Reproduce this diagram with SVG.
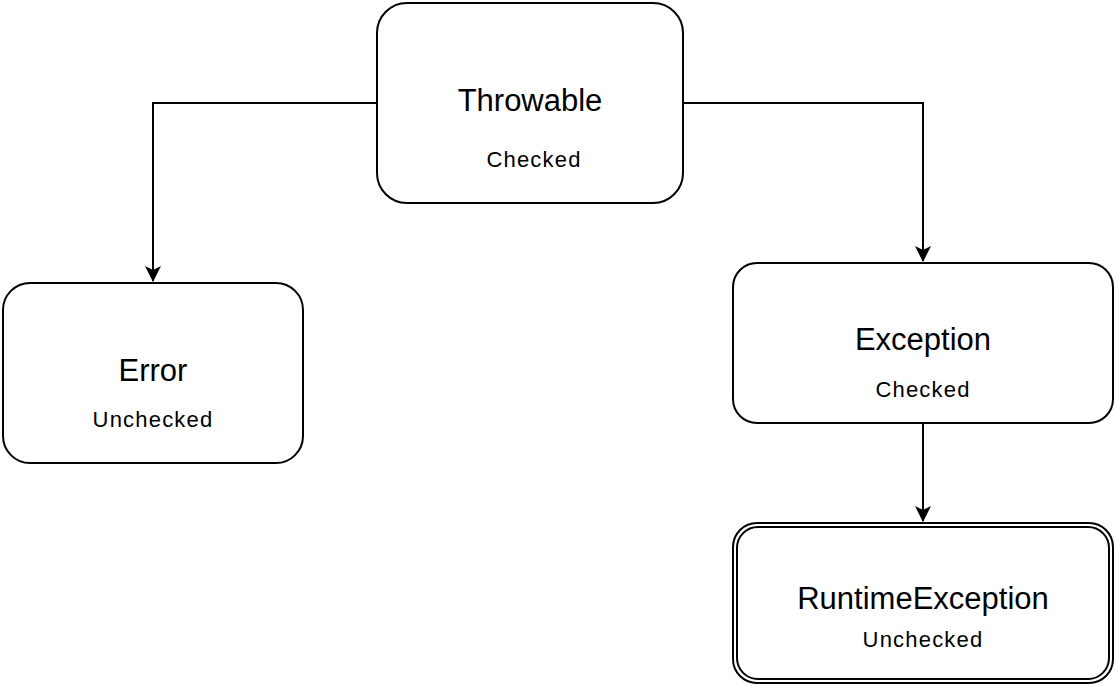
<svg xmlns="http://www.w3.org/2000/svg" width="1116" height="686" viewBox="0 0 1116 686">
<style>
.box{fill:#fff;stroke:#000;stroke-width:2}
.title{font-family:"Liberation Sans",Arial,sans-serif;font-size:31px;text-anchor:middle;fill:#000}
.sub{font-family:"Liberation Sans",Arial,sans-serif;font-size:22px;text-anchor:middle;fill:#000;letter-spacing:1.2px}
.edge{fill:none;stroke:#000;stroke-width:2}
</style>
<defs>
<marker id="arr" markerUnits="userSpaceOnUse" markerWidth="20" markerHeight="20" viewBox="-17 -10 20 20" refX="0" refY="0" orient="auto">
<path d="M1,0 L-15,-8 L-11,0 L-15,8 Z" fill="#000"/>
</marker>
</defs>
<rect width="1116" height="686" fill="#fff"/>
<g id="connectors">
<path class="edge" d="M377,103 H153 V281" marker-end="url(#arr)"/>
<path class="edge" d="M683,103 H923 V261" marker-end="url(#arr)"/>
<path class="edge" d="M923,423 V521" marker-end="url(#arr)"/>
</g>
<g id="throwable">
<rect class="box" x="377" y="3" width="306" height="200" rx="30"/>
<text class="title" x="530" y="111">Throwable</text>
<text class="sub" x="534" y="167">Checked</text>
</g>
<g id="error">
<rect class="box" x="3" y="283" width="300" height="180" rx="27"/>
<text class="title" x="153" y="381">Error</text>
<text class="sub" x="153" y="427">Unchecked</text>
</g>
<g id="exception">
<rect class="box" x="733" y="263" width="380" height="160" rx="24"/>
<text class="title" x="923" y="350">Exception</text>
<text class="sub" x="923" y="397">Checked</text>
</g>
<g id="runtimeexception">
<rect class="box" x="733" y="523" width="380" height="160" rx="24"/>
<rect class="box" x="737" y="527" width="372" height="152" rx="21"/>
<text class="title" x="923" y="609">RuntimeException</text>
<text class="sub" x="923" y="647">Unchecked</text>
</g>
</svg>
